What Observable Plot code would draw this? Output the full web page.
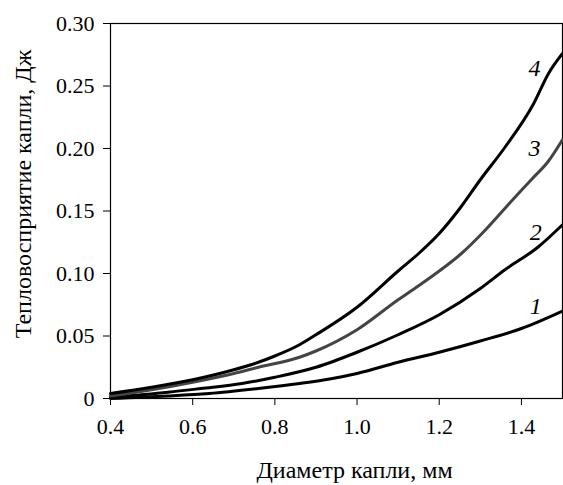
<!DOCTYPE html>
<html><head><meta charset="utf-8">
<script src="https://cdn.jsdelivr.net/npm/d3@7"></script>
<script src="https://cdn.jsdelivr.net/npm/@observablehq/plot@0.6"></script>
<style>
body{margin:0;background:#fff}
#chart svg, #chart svg text{font-family:"Times New Roman","Liberation Serif","DejaVu Serif",serif !important;}
#chart svg g[aria-label$="tick label"] text{font-size:22px !important;}
</style>
</head><body><div id="chart"></div>
<script>
const xTicks = [0.4, 0.6, 0.8, 1.0, 1.2, 1.4];
const yTicks = [0, 0.05, 0.10, 0.15, 0.20, 0.25, 0.30];
const xTitle = "Диаметр капли, мм";
const yTitle = "Тепловосприятие капли, Дж";

const curve4x = [0.40, 0.50, 0.60, 0.70, 0.76, 0.80, 0.86, 0.90, 1.00, 1.10, 1.15, 1.20, 1.25, 1.30, 1.36, 1.43, 1.466, 1.50];
const curve4y = [0.004, 0.009, 0.015, 0.023, 0.029, 0.034, 0.043, 0.051, 0.073, 0.102, 0.116, 0.132, 0.152, 0.175, 0.201, 0.236, 0.260, 0.276];
const curve3x = [0.40, 0.50, 0.60, 0.70, 0.76, 0.86, 0.90, 1.00, 1.10, 1.149, 1.20, 1.254, 1.31, 1.376, 1.424, 1.466, 1.50];
const curve3y = [0.002, 0.007, 0.013, 0.020, 0.025, 0.033, 0.038, 0.055, 0.079, 0.090, 0.102, 0.116, 0.134, 0.158, 0.175, 0.190, 0.207];
const curve2x = [0.40, 0.54, 0.62, 0.72, 0.80, 0.90, 1.00, 1.10, 1.20, 1.30, 1.36, 1.44, 1.50];
const curve2y = [0.001, 0.005, 0.008, 0.012, 0.017, 0.025, 0.037, 0.051, 0.067, 0.088, 0.103, 0.121, 0.139];
const curve1x = [0.40, 0.54, 0.64, 0.76, 0.86, 0.94, 1.00, 1.10, 1.20, 1.30, 1.40, 1.50];
const curve1y = [0.000, 0.002, 0.004, 0.008, 0.012, 0.016, 0.020, 0.029, 0.037, 0.046, 0.056, 0.070];

const curveNames = ["1", "2", "3", "4"];
const labelX = [1.435, 1.435, 1.432, 1.432];
const labelY = [0.074, 0.133, 0.200, 0.264];

const series = [
  {name: "1", xs: curve1x, ys: curve1y, color: "#000"},
  {name: "2", xs: curve2x, ys: curve2y, color: "#000"},
  {name: "3", xs: curve3x, ys: curve3y, color: "#444"},
  {name: "4", xs: curve4x, ys: curve4y, color: "#000"}
];
const rows = series.flatMap(s => s.xs.map((x, i) => ({name: s.name, x, y: s.ys[i], color: s.color})));
const labels = curveNames.map((n, i) => ({name: n, x: labelX[i], y: labelY[i]}));

const chart = Plot.plot({
  width: 563,
  height: 485,
  marginLeft: 110,
  marginRight: 1,
  marginTop: 23,
  marginBottom: 87,
  style: {fontFamily: "'Times New Roman', 'Liberation Serif', serif", fontSize: "22px", color: "#000", background: "#fff"},
  x: {domain: [0.4, 1.5]},
  y: {domain: [0, 0.30]},
  marks: [
    Plot.frame({stroke: "#000", strokeWidth: 1.2}),
    Plot.axisX({ticks: xTicks, tickFormat: d => d.toFixed(1), tickSize: 7, tickPadding: 13, label: null}),
    Plot.axisY({ticks: yTicks, tickFormat: d => d === 0 ? "0" : d.toFixed(2), tickSize: 7, tickPadding: 9, label: null}),
    Plot.text([xTitle], {frameAnchor: "bottom", text: d => d, dx: 18, dy: 72, fontSize: 24, textAnchor: "middle", lineAnchor: "middle", fill: "#000"}),
    Plot.text([yTitle], {frameAnchor: "left", text: d => d, dx: -87, dy: -17, rotate: -90, fontSize: 24, textAnchor: "middle", lineAnchor: "middle", fill: "#000"}),
    Plot.line(rows, {x: "x", y: "y", z: "name", stroke: "color", strokeWidth: 3, curve: "monotone-x"}),
    Plot.text(labels, {x: "x", y: "y", text: "name", fontStyle: "italic", fontSize: 24, textAnchor: "middle"})
  ]
});
document.getElementById("chart").appendChild(chart);
</script>
</body></html>
